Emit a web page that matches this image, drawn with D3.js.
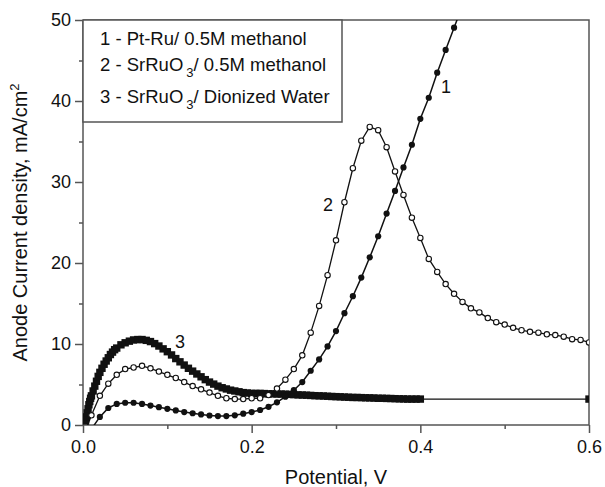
<!DOCTYPE html>
<html>
  <head>
    <meta charset="utf-8">
    <title>Anode current density</title>
    <script src="https://d3js.org/d3.v7.min.js"></script>
    <style>
      body { margin: 0; background: #fff; }
      text { font-family: "Liberation Sans", Arial, sans-serif; fill: #111; }
    </style>
  </head>
  <body>
    <script>
      // ==================
      // data
      // ==================
      const xMajor = [0, 0.2, 0.4, 0.6];
      const xMinor = [0.1, 0.3, 0.5];
      const yMajor = [0, 10, 20, 30, 40, 50];
      const yMinor = [5, 15, 25, 35, 45];

      // 1 - Pt-Ru / 0.5M methanol
      const v1 = [0.01, 0.02, 0.03, 0.04, 0.05, 0.06, 0.07, 0.08, 0.09, 0.10,
                  0.11, 0.12, 0.13, 0.14, 0.15, 0.16, 0.17, 0.18, 0.19, 0.20,
                  0.21, 0.22, 0.23, 0.24, 0.25, 0.26, 0.27, 0.28, 0.29, 0.30,
                  0.31, 0.32, 0.33, 0.34, 0.35, 0.36, 0.37, 0.38, 0.39, 0.40,
                  0.41, 0.42, 0.43, 0.44, 0.45];
      const i1 = [-0.5, 1.0, 2.1, 2.6, 2.75, 2.75, 2.6, 2.4, 2.2, 2.0,
                  1.8, 1.6, 1.45, 1.3, 1.17, 1.1, 1.1, 1.2, 1.4, 1.6,
                  1.85, 2.25, 2.8, 3.5, 4.3, 5.3, 6.7, 8.1, 9.7, 11.6,
                  13.8, 15.9, 18.2, 20.7, 23.3, 26.1, 28.9, 31.8, 34.6, 37.8,
                  40.4, 43.5, 46.3, 49.05, 51.8];

      // 2 - SrRuO3 / 0.5M methanol
      const v2 = [0.00, 0.01, 0.02, 0.03, 0.04, 0.05, 0.06, 0.07, 0.08, 0.09, 0.10,
                  0.11, 0.12, 0.13, 0.14, 0.15, 0.16, 0.17, 0.18, 0.19, 0.20,
                  0.21, 0.22, 0.23, 0.24, 0.25, 0.26, 0.27, 0.28, 0.29, 0.30,
                  0.31, 0.32, 0.33, 0.34, 0.35, 0.36, 0.37, 0.38, 0.39, 0.40,
                  0.41, 0.42, 0.43, 0.44, 0.45, 0.46, 0.47, 0.48, 0.49, 0.50,
                  0.51, 0.52, 0.53, 0.54, 0.55, 0.56, 0.57, 0.58, 0.59, 0.60];
      const i2 = [-1.5, 1.2, 3.6, 5.1, 6.2, 6.9, 7.1, 7.3, 7.0, 6.6, 6.2,
                  5.8, 5.3, 4.8, 4.4, 4.0, 3.6, 3.3, 3.2, 3.2, 3.3,
                  3.3, 3.7, 4.5, 5.6, 6.9, 8.6, 11.4, 14.7, 18.5, 22.8,
                  27.5, 31.7, 35.1, 36.8, 36.4, 34.3, 31.3, 28.4, 25.6, 23.1,
                  20.5, 18.9, 17.4, 16.2, 15.2, 14.4, 13.9, 13.2, 12.7, 12.4,
                  12.0, 11.7, 11.5, 11.4, 11.2, 11.1, 10.9, 10.6, 10.5, 10.2];

      // 3 - SrRuO3 / dionized water (dense scan)
      const v3 = [0.003, 0.004, 0.005, 0.006, 0.007, 0.008, 0.009, 0.010, 0.012, 0.014,
                  0.016, 0.018, 0.020, 0.0225, 0.025, 0.0275, 0.030, 0.0325, 0.035, 0.0375,
                  0.040, 0.045, 0.050, 0.055, 0.060, 0.065, 0.070, 0.075, 0.080, 0.085,
                  0.090, 0.095, 0.100, 0.105, 0.110, 0.115, 0.120, 0.125, 0.130, 0.135,
                  0.140, 0.145, 0.150, 0.155, 0.160, 0.165, 0.170, 0.175, 0.180, 0.185,
                  0.190, 0.195, 0.200, 0.205, 0.210, 0.215, 0.220, 0.225, 0.230, 0.235,
                  0.240, 0.245, 0.250, 0.255, 0.260, 0.265, 0.270, 0.275, 0.280, 0.285,
                  0.290, 0.295, 0.300, 0.305, 0.310, 0.315, 0.320, 0.325, 0.330, 0.335,
                  0.340, 0.345, 0.350, 0.355, 0.360, 0.365, 0.370, 0.375, 0.380, 0.385,
                  0.390, 0.395, 0.400, 0.600];
      const i3 = [0.5, 1.0, 1.5, 2.0, 2.5, 2.9, 3.3, 3.6, 4.2, 4.8,
                  5.4, 6.0, 6.5, 7.0, 7.5, 7.9, 8.3, 8.7, 9.0, 9.3,
                  9.5, 9.9, 10.15, 10.35, 10.5, 10.55, 10.55, 10.45, 10.3, 10.05,
                  9.75, 9.4, 9.05, 8.65, 8.2, 7.8, 7.4, 7.0, 6.65, 6.3,
                  5.95, 5.6, 5.3, 5.05, 4.8, 4.6, 4.45, 4.3, 4.2, 4.1,
                  4.0, 3.95, 3.9, 3.9, 3.9, 3.88, 3.85, 3.85, 3.83, 3.82,
                  3.8, 3.78, 3.75, 3.72, 3.7, 3.68, 3.65, 3.62, 3.6, 3.58,
                  3.55, 3.52, 3.5, 3.48, 3.45, 3.43, 3.4, 3.4, 3.38, 3.36,
                  3.35, 3.33, 3.3, 3.3, 3.28, 3.27, 3.25, 3.23, 3.22, 3.2,
                  3.2, 3.2, 3.2, 3.2];

      function drawChart() {
        const width = 605;
        const height = 487;
        const plot = {left: 83, right: 589, top: 20, bottom: 425};
        const axisColor = "#555";

        const svg = d3.select("body")
          .append("svg")
            .attr("width", width)
            .attr("height", height);

        const xScale = d3.scaleLinear()
          .domain([0, 0.6])
          .range([plot.left, plot.right]);

        const yScale = d3.scaleLinear()
          .domain([0, 50])
          .range([plot.bottom, plot.top]);

        svg.append("clipPath")
            .attr("id", "plot-clip")
          .append("rect")
            .attr("x", plot.left)
            .attr("y", plot.top)
            .attr("width", plot.right - plot.left)
            .attr("height", plot.bottom - plot.top);

        // axes, major + minor ticks
        const xAxis = svg.append("g")
          .attr("transform", "translate(0," + plot.bottom + ")")
          .call(d3.axisBottom(xScale).tickValues(xMajor)
            .tickFormat(d3.format(".1f")).tickSize(8).tickPadding(7));
        svg.append("g")
          .attr("transform", "translate(0," + plot.bottom + ")")
          .call(d3.axisBottom(xScale).tickValues(xMinor).tickFormat("").tickSize(4))
          .select(".domain").remove();

        const yAxis = svg.append("g")
          .attr("transform", "translate(" + plot.left + ",0)")
          .call(d3.axisLeft(yScale).tickValues(yMajor)
            .tickFormat(d3.format("d")).tickSize(8).tickPadding(4));
        svg.append("g")
          .attr("transform", "translate(" + plot.left + ",0)")
          .call(d3.axisLeft(yScale).tickValues(yMinor).tickFormat("").tickSize(4))
          .select(".domain").remove();

        svg.selectAll(".tick line, .domain")
          .attr("stroke", axisColor)
          .attr("stroke-width", 1.5);
        svg.selectAll(".tick text")
          .attr("font-size", 18)
          .attr("font-family", null)
          .attr("fill", "#111");
        xAxis.select(".domain").attr("d", "M" + plot.left + ",0H" + plot.right);
        yAxis.select(".domain").attr("d", "M0," + plot.bottom + "V" + plot.top);

        // frame top + right
        svg.append("path")
          .attr("d", "M" + xScale(0) + "," + yScale(50) + "H" + xScale(0.6) + "V" + yScale(0))
          .attr("fill", "none")
          .attr("stroke", axisColor)
          .attr("stroke-width", 1.5);

        // axis titles
        svg.append("text")
          .attr("x", (plot.left + plot.right) / 2)
          .attr("y", 484)
          .attr("text-anchor", "middle")
          .attr("font-size", 20)
          .text("Potential, V");

        const yTitle = svg.append("text")
          .attr("transform", "translate(27," + ((plot.top + plot.bottom) / 2) + ") rotate(-90)")
          .attr("text-anchor", "middle")
          .attr("font-size", 20)
          .text("Anode Current density, mA/cm");
        yTitle.append("tspan")
          .attr("dy", -8)
          .attr("font-size", 13)
          .text("2");

        const line = d3.line()
          .x(function(d) { return xScale(d.v); })
          .y(function(d) { return yScale(d.i); });

        function zip(vs, is) {
          return vs.map(function(v, k) { return {v: v, i: is[k]}; });
        }

        const data1 = zip(v1, i1);
        const data2 = zip(v2, i2);
        const data3 = zip(v3, i3);

        const marks = svg.append("g").attr("clip-path", "url(#plot-clip)");

        // series 3: dense filled squares
        marks.append("path")
          .attr("d", line(data3))
          .attr("fill", "none")
          .attr("stroke", "#111")
          .attr("stroke-width", 1.4);
        marks.selectAll("rect.s3")
          .data(data3)
          .enter().append("rect")
            .classed("s3", true)
            .attr("x", function(d) { return xScale(d.v) - 3.7; })
            .attr("y", function(d) { return yScale(d.i) - 3.7; })
            .attr("width", 7.4)
            .attr("height", 7.4)
            .attr("fill", "#111");

        // series 2: open circles
        marks.append("path")
          .attr("d", line(data2))
          .attr("fill", "none")
          .attr("stroke", "#111")
          .attr("stroke-width", 1.3);
        marks.selectAll("circle.s2")
          .data(data2)
          .enter().append("circle")
            .classed("s2", true)
            .attr("cx", function(d) { return xScale(d.v); })
            .attr("cy", function(d) { return yScale(d.i); })
            .attr("r", 2.7)
            .attr("fill", "#fff")
            .attr("stroke", "#111")
            .attr("stroke-width", 1.1);

        // series 1: filled circles
        marks.append("path")
          .attr("d", line(data1))
          .attr("fill", "none")
          .attr("stroke", "#111")
          .attr("stroke-width", 1.5);
        marks.selectAll("circle.s1")
          .data(data1)
          .enter().append("circle")
            .classed("s1", true)
            .attr("cx", function(d) { return xScale(d.v); })
            .attr("cy", function(d) { return yScale(d.i); })
            .attr("r", 3.1)
            .attr("fill", "#111");

        // curve numbers
        [["1", 446, 93], ["2", 328, 211], ["3", 180, 348]].forEach(function(l) {
          svg.append("text")
            .attr("x", l[1])
            .attr("y", l[2])
            .attr("text-anchor", "middle")
            .attr("font-size", 18)
            .text(l[0]);
        });

        // legend box
        svg.append("rect")
          .attr("x", plot.left)
          .attr("y", plot.top)
          .attr("width", 259)
          .attr("height", 102)
          .attr("fill", "#fff")
          .attr("stroke", axisColor)
          .attr("stroke-width", 1.5);

        const legend = svg.append("g").attr("font-size", 18.5);
        legend.append("text")
          .attr("x", 100).attr("y", 45)
          .text("1 - Pt-Ru/ 0.5M methanol");

        [["2 - SrRuO", "/ 0.5M methanol", 71], ["3 - SrRuO", "/ Dionized Water", 103]].forEach(function(l) {
          const t = legend.append("text").attr("x", 100).attr("y", l[2]);
          t.append("tspan").text(l[0]);
          t.append("tspan").attr("dx", 3).attr("dy", 6).attr("font-size", 13).text("3");
          t.append("tspan").attr("dy", -6).text(l[1]);
        });
      }
      drawChart();
    </script>
  </body>
</html>
